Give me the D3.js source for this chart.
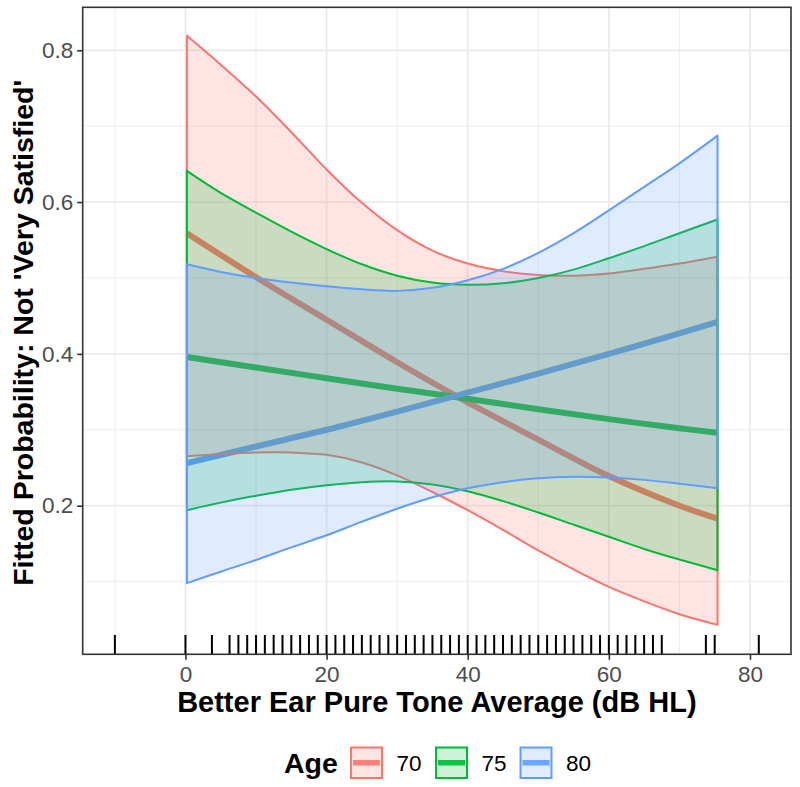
<!DOCTYPE html>
<html>
<head>
<meta charset="utf-8">
<script src="https://cdn.jsdelivr.net/npm/d3@7"></script>
<style>
  body { margin: 0; background: #fff; }
  svg { display: block; font-family: "Liberation Sans", Arial, sans-serif; }
</style>
</head>
<body>
<svg id="chart" width="800" height="787"></svg>
<script>
// ---------------- data ----------------
const ages = ["70", "75", "80"];
const colors = ["#F8766D", "#00BA38", "#619CFF"];

const fitX = [0.2, 10, 20, 30, 40, 50, 60, 70, 75.4];
const fit70 = [0.559, 0.501, 0.445, 0.389, 0.336, 0.287, 0.239, 0.200, 0.183];
const fit75 = [0.396, 0.382, 0.368, 0.354, 0.341, 0.327, 0.314, 0.302, 0.296];
const fit80 = [0.256, 0.278, 0.300, 0.324, 0.349, 0.374, 0.400, 0.427, 0.442];

const bandX = [0.2, 5, 10, 15, 20, 25, 30, 35, 40, 45, 50, 55, 60, 65, 70, 75.4];
const upper70 = [0.819, 0.781, 0.739, 0.692, 0.643, 0.599, 0.563, 0.536, 0.519, 0.509, 0.504, 0.503, 0.506, 0.512, 0.519, 0.528];
const lower70 = [0.265, 0.268, 0.270, 0.270, 0.267, 0.257, 0.240, 0.218, 0.194, 0.168, 0.141, 0.116, 0.093, 0.074, 0.057, 0.043];
const upper75 = [0.641, 0.612, 0.586, 0.561, 0.538, 0.518, 0.503, 0.494, 0.491, 0.493, 0.500, 0.511, 0.526, 0.542, 0.559, 0.577];
const lower75 = [0.194, 0.204, 0.213, 0.221, 0.227, 0.231, 0.232, 0.228, 0.219, 0.206, 0.191, 0.175, 0.159, 0.143, 0.129, 0.115];
const upper80 = [0.518, 0.508, 0.500, 0.494, 0.489, 0.485, 0.483, 0.487, 0.497, 0.512, 0.533, 0.559, 0.589, 0.620, 0.651, 0.6875];
const lower80 = [0.098, 0.113, 0.1285, 0.145, 0.161, 0.179, 0.196, 0.211, 0.223, 0.231, 0.236, 0.238, 0.237, 0.234, 0.229, 0.223];

const rugX = [-10, 0, 3.75, 6.25, 7.5, 8.75, 10, 11.25, 12.5, 13.75, 15, 16.25, 17.5, 18.75, 20,
  21.25, 22.5, 23.75, 25, 26.25, 27.5, 28.75, 30, 31.25, 32.5, 33.75, 35, 36.25, 37.5, 38.75, 40,
  41.25, 42.5, 43.75, 45, 46.25, 47.5, 48.75, 50, 51.25, 52.5, 53.75, 55, 56.25, 57.5, 58.75, 60,
  61.25, 62.5, 63.75, 65, 66.25, 67.5, 73.75, 75, 81.25];

const xMajor = [0, 20, 40, 60, 80];
const xMinor = [-10, 10, 30, 50, 70];
const yMajor = [0.2, 0.4, 0.6, 0.8];
const yMinor = [0.1, 0.3, 0.5, 0.7];

const xTitle = "Better Ear Pure Tone Average (dB HL)";
const yTitle = "Fitted Probability: Not 'Very Satisfied'";
const legendTitle = "Age";

// ---------------- build ----------------
const fits = [fit70, fit75, fit80];
const uppers = [upper70, upper75, upper80];
const lowers = [lower70, lower75, lower80];

const P = { left: 82.7, right: 791, top: 7.3, bottom: 654.3 };
const x = d3.scaleLinear().domain([-14.5625, 85.8125]).range([P.left, P.right]);
const y = d3.scaleLinear().domain([0.0042, 0.8566]).range([P.bottom, P.top]);

const svg = d3.select("#chart");
svg.append("rect").attr("width", 800).attr("height", 787).attr("fill", "#fff");

svg.append("defs").append("clipPath").attr("id", "clip")
  .append("rect").attr("x", P.left).attr("y", P.top)
  .attr("width", P.right - P.left).attr("height", P.bottom - P.top);

const grid = svg.append("g");
grid.selectAll(".xmin").data(xMinor).join("line")
  .attr("class", "xmin")
  .attr("x1", d => x(d)).attr("x2", d => x(d)).attr("y1", P.top).attr("y2", P.bottom)
  .attr("stroke", "#ebebeb").attr("stroke-width", 0.9);
grid.selectAll(".ymin").data(yMinor).join("line")
  .attr("class", "ymin")
  .attr("y1", d => y(d)).attr("y2", d => y(d)).attr("x1", P.left).attr("x2", P.right)
  .attr("stroke", "#ebebeb").attr("stroke-width", 0.9);
grid.selectAll(".xmaj").data(xMajor).join("line")
  .attr("class", "xmaj")
  .attr("x1", d => x(d)).attr("x2", d => x(d)).attr("y1", P.top).attr("y2", P.bottom)
  .attr("stroke", "#ebebeb").attr("stroke-width", 1.8);
grid.selectAll(".ymaj").data(yMajor).join("line")
  .attr("class", "ymaj")
  .attr("y1", d => y(d)).attr("y2", d => y(d)).attr("x1", P.left).attr("x2", P.right)
  .attr("stroke", "#ebebeb").attr("stroke-width", 1.8);

const plot = svg.append("g").attr("clip-path", "url(#clip)");

// fitted lines (drawn first, ribbons overlay them)
const line = d3.line().x((d, i) => x(fitX[i])).y(d => y(d)).curve(d3.curveCatmullRom.alpha(0.5));
fits.forEach((f, k) => {
  plot.append("path").attr("d", line(f)).attr("fill", "none")
    .attr("stroke", colors[k]).attr("stroke-width", 6);
});

// ribbons
const area = d3.area().x((d, i) => x(bandX[i])).y0(d => y(d[0])).y1(d => y(d[1]))
  .curve(d3.curveCatmullRom.alpha(0.5));
uppers.forEach((u, k) => {
  const data = u.map((v, i) => [lowers[k][i], v]);
  plot.append("path").attr("d", area(data) + "Z")
    .attr("fill", colors[k]).attr("fill-opacity", 0.2)
    .attr("stroke", colors[k]).attr("stroke-width", 2).attr("stroke-linejoin", "round");
});

// rug
plot.selectAll(".rug").data(rugX).join("line")
  .attr("class", "rug")
  .attr("x1", d => x(d)).attr("x2", d => x(d))
  .attr("y1", P.bottom).attr("y2", P.bottom - 0.03 * (P.bottom - P.top))
  .attr("stroke", "#000").attr("stroke-width", 2);

// panel border
svg.append("rect").attr("x", P.left).attr("y", P.top)
  .attr("width", P.right - P.left).attr("height", P.bottom - P.top)
  .attr("fill", "none").attr("stroke", "#333").attr("stroke-width", 1.6);

// axes
const xAxis = svg.append("g").attr("transform", `translate(0,${P.bottom})`)
  .call(d3.axisBottom(x).tickValues(xMajor).tickSize(5.5).tickPadding(6).tickFormat(d3.format("d")));
const yAxis = svg.append("g").attr("transform", `translate(${P.left},0)`)
  .call(d3.axisLeft(y).tickValues(yMajor).tickSize(5.5).tickPadding(4).tickFormat(d3.format(".1f")));
[xAxis, yAxis].forEach(a => {
  a.attr("font-family", null).attr("font-size", null);
  a.select(".domain").remove();
  a.selectAll(".tick line").attr("stroke", "#333").attr("stroke-width", 1.6);
  a.selectAll(".tick text").attr("fill", "#4d4d4d").style("font-size", "22.5px")
    .style("font-family", "'Liberation Sans', Arial, sans-serif");
});

// titles
svg.append("text").attr("x", (P.left + P.right) / 2).attr("y", 712)
  .attr("text-anchor", "middle").attr("font-weight", "bold").attr("font-size", 29)
  .attr("fill", "#000").text(xTitle);
svg.append("text").attr("transform", `translate(33,${(P.top + P.bottom) / 2 + 2}) rotate(-90)`)
  .attr("text-anchor", "middle").attr("font-weight", "bold").attr("font-size", 28.5)
  .attr("fill", "#000").text(yTitle);

// legend
const lg = svg.append("g");
lg.append("text").attr("x", 284).attr("y", 773).attr("font-weight", "bold")
  .attr("font-size", 28.5).attr("fill", "#000").text(legendTitle);
const keyX = [351, 436, 520.5];
ages.forEach((a, k) => {
  const g = lg.append("g").attr("transform", `translate(${keyX[k]},747.5)`);
  g.append("rect").attr("width", 31).attr("height", 30.5).attr("fill", "#fff");
  g.append("rect").attr("width", 31).attr("height", 30.5)
    .attr("fill", colors[k]).attr("fill-opacity", 0.2)
    .attr("stroke", colors[k]).attr("stroke-width", 2);
  g.append("line").attr("x1", 2).attr("x2", 29).attr("y1", 15.25).attr("y2", 15.25)
    .attr("stroke", colors[k]).attr("stroke-width", 5.5).attr("stroke-opacity", 0.9);
  lg.append("text").attr("x", keyX[k] + 45.5).attr("y", 771)
    .attr("font-size", 22.5).attr("fill", "#000").text(a);
});
</script>
</body>
</html>
